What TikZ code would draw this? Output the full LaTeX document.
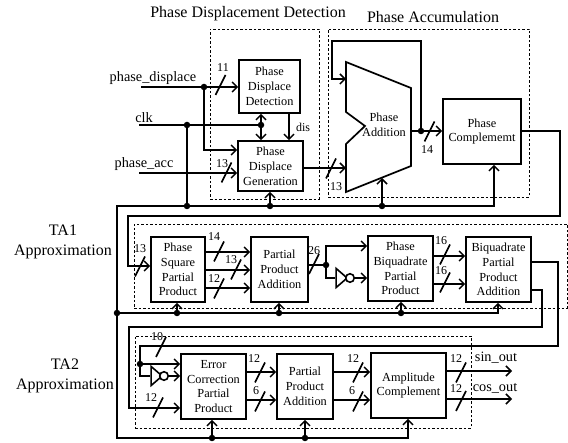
\documentclass[tikz,border=0pt]{standalone}
\usepackage{fontspec}
\setmainfont{Liberation Serif}
\usetikzlibrary{arrows.meta, positioning, shapes.geometric}

\tikzset{
  block/.style={draw, line width=1.7pt, fill=white, align=center, inner sep=0pt,
    font=\fontsize{12.3}{14.8}\selectfont},
  region/.style={draw, dashed, line width=0.6pt, dash pattern=on 2.5pt off 2pt},
  sig/.style={line width=1.7pt, -{Straight Barb[length=5pt,width=10pt,line width=1.5pt]}},
  wire/.style={line width=1.7pt},
  tick/.style={line width=1.6pt},
  dot/.style={circle, fill=black, inner sep=0pt, minimum size=6.5pt},
  width/.style={font=\fontsize{12}{14}\selectfont, inner sep=0pt},
  portlabel/.style={font=\fontsize{14.3}{16}\selectfont, inner sep=0pt},
  title/.style={font=\fontsize{16}{20}\selectfont, inner sep=0pt, align=center},
  inv/.style={draw, line width=1.6pt, fill=white, isosceles triangle, isosceles triangle stretches,
    minimum height=11pt, minimum width=19pt, inner sep=0pt},
  bubble/.style={draw, circle, line width=1.6pt, fill=white, minimum size=8.5pt, inner sep=0pt},
}

\begin{document}
\begin{tikzpicture}[x=1pt, y=-1pt]
  \useasboundingbox (0,0) rectangle (568,443);

  % Dashed regions
  \node[region, minimum width=109pt, minimum height=170pt] (pddbox) at (264.5,114) {};
  \node[region, minimum width=201pt, minimum height=168pt] (pabox) at (428.5,113) {};
  \node[region, minimum width=433pt, minimum height=84pt] (ta1box) at (350.5,266) {};
  \node[region, minimum width=336pt, minimum height=92pt] (ta2box) at (303,382) {};

  % Titles
  \node[title] (tpdd) at (248,14) {Phase Displacement Detection};
  \node[title] (tpa) at (433,17) {Phase Accumulation};
  \node[title] (tta1) at (63,242) {TA1\\Approximation};
  \node[title] (tta2) at (65,375.5) {TA2\\Approximation};

  % Phase blocks
  \node[block, minimum width=61pt, minimum height=53pt] (det) at (269.5,86.5) {Phase\\Displace\\Detection};
  \node[block, minimum width=65pt, minimum height=50pt] (gen) at (270.5,166) {Phase\\Displace\\Generation};
  \node[block, minimum width=78pt, minimum height=65pt] (comp) at (482,131.5) {Phase\\Complememt};
  \draw[line width=1.7pt, fill=white, line join=miter] (346,62) -- (411,88) -- (411,166) -- (346,192)
    -- (346,144) -- (365,126) -- (346,112) -- cycle;
  \node[block, draw=none, fill=none] (add) at (384,124.5) {Phase\\Addition};

  % TA1 blocks
  \node[block, minimum width=54pt, minimum height=65pt] (sqr) at (178,269.5) {Phase\\Square\\Partial\\Product};
  \node[block, minimum width=57pt, minimum height=65pt] (ppa) at (279.5,269.5) {Partial\\Product\\Addition};
  \node[block, minimum width=65pt, minimum height=65pt] (biq) at (400.5,268.5) {Phase\\Biquadrate\\Partial\\Product};
  \node[block, minimum width=65pt, minimum height=65pt] (bpa) at (498.5,269.5) {Biquadrate\\Partial\\Product\\Addition};

  % TA2 blocks
  \node[block, minimum width=65pt, minimum height=65pt] (err) at (213.5,386.5) {Error\\Correction\\Partial\\Product};
  \node[block, minimum width=56pt, minimum height=65pt] (ppb) at (305,386.5) {Partial\\Product\\Addition};
  \node[block, minimum width=75pt, minimum height=65pt] (amp) at (408.5,385.5) {Amplitude\\Complement};

  % Junctions
  \node[dot] (dpd) at (204,87) {};
  \node[dot] (dclk) at (187,125) {};
  \node[dot] (dmid) at (261,125) {};
  \node[dot] (dbus) at (187,206) {};
  \node[dot] (dgen) at (270,206) {};
  \node[dot] (dadd) at (382,206) {};
  \node[dot] (dfb) at (421,131) {};
  \node[dot] (dleft) at (117,313) {};
  \node[dot] (dsqr) at (177,313) {};
  \node[dot] (dppa) at (279,313) {};
  \node[dot] (dbiq) at (401,313) {};
  \node[dot] (dinv) at (326,265) {};
  \node[dot] (derr) at (140,364) {};
  \node[dot] (derb) at (212,438) {};
  \node[dot] (dppb) at (305,438) {};

  % Free ends and corners
  \coordinate (inpd) at (141,87);
  \coordinate (inclk) at (139,125);
  \coordinate (inacc) at (139,173);
  \coordinate (fbtop) at (332,41);
  \coordinate (addbot) at (382,178);
  \coordinate (outsin) at (512,371);
  \coordinate (outcos) at (512,399);

  % Inverters
  \node[inv] (invb) at (340.5,278) {};
  \node[bubble] (bubb) at (350,278) {};
  \node[inv] (inve) at (155.5,376) {};
  \node[bubble] (bube) at (164,376) {};

  % Phase section wiring
  \draw[sig] (inpd) -- (det.west |- inpd);
  \draw[wire] (inpd) -- (dpd);
  \draw[sig] (dpd) |- (gen.west |- 0,150);
  \draw[wire] (inclk) -- (dmid);
  \draw[wire] (dclk) -- (dbus);
  \draw[sig] (dmid) -- (det.south -| dmid);
  \draw[sig] (dmid) -- (gen.north -| dmid);
  \draw[sig] (det.south -| 289,0) -- (gen.north -| 289,0);
  \draw[sig] (inacc) -- (gen.west |- inacc);
  \draw[sig] (dgen) -- (gen.south -| dgen);
  \draw[sig] (gen.east |- 0,168) -- (346,168);
  \draw[wire] (411,131) -- (dfb);
  \draw[sig] (dfb) -- (comp.west |- dfb);
  \draw[sig] (dfb) |- (fbtop) |- (346,79);
  \draw[sig] (dadd) -- (addbot);

  % Clock bus
  \draw[sig] (dleft) |- (dbus) -| (comp.south -| 494,0);
  \draw[sig] (dleft) -- (117,438) -| (amp.south -| 408,0);
  \draw[sig] (dleft) -| (bpa.south -| 498,0);
  \draw[sig] (dsqr) -- (sqr.south -| dsqr);
  \draw[sig] (dppa) -- (ppa.south -| dppa);
  \draw[sig] (dbiq) -- (biq.south -| dbiq);
  \draw[sig] (derb) -- (err.south -| derb);
  \draw[sig] (dppb) -- (ppb.south -| dppb);

  % TA1 wiring
  \draw[sig] (comp.east |- 0,131) -- (560,131) |- (128,216) |- (sqr.west |- 0,266);
  \foreach \yy in {252,270,288}
    \draw[sig] (sqr.east |- 0,\yy) -- (ppa.west |- 0,\yy);
  \draw[wire] (ppa.east |- dinv) -- (dinv);
  \draw[sig] (dinv) |- (biq.west |- 0,246);
  \draw[wire] (dinv) |- (invb.west);
  \draw[sig] (bubb) -- (biq.west |- bubb);
  \foreach \yy in {256,284}
    \draw[sig] (biq.east |- 0,\yy) -- (bpa.west |- 0,\yy);

  % TA2 wiring
  \draw[wire] (bpa.east |- 0,262) -- (558,262) |- (140,346) -- (derr);
  \draw[sig] (derr) -- (err.west |- derr);
  \draw[wire] (derr) |- (inve.west);
  \draw[sig] (bube) -- (err.west |- bube);
  \draw[sig] (bpa.east |- 0,290) -- (542,290) |- (129,327) |- (err.west |- 0,408);
  \foreach \yy in {372,400}
    \draw[sig] (err.east |- 0,\yy) -- (ppb.west |- 0,\yy);
  \foreach \yy in {372,400}
    \draw[sig] (ppb.east |- 0,\yy) -- (amp.west |- 0,\yy);
  \draw[sig] (amp.east |- outsin) -- (outsin);
  \draw[sig] (amp.east |- outcos) -- (outcos);

  % Bus width marks
  \foreach \xx/\yy/\lx/\ly/\lab [count=\i] in {
      220.5/85/223/68/11, 226.5/172.5/222/164/13, 331/168.5/336/187/13, 429.5/131.5/427/150/14,
      140/266.5/140/249/13, 219/251.5/214/237/14, 236/269.5/231/260/13, 219/288.5/214/279/12,
      314/264/314/251/26, 445/254.5/441/241/16, 445/282.5/441/271/16,
      161/347/157/337/10, 158/407.5/151/398/12, 260/372.5/254/359/12, 260/401.5/256/391/6,
      358/372.5/353/359/12, 358/401.5/352/391/6, 461/372.5/456/359/12, 461/401/456/389/12}{
    \draw[tick] (\xx-5,\yy+10) -- (\xx+5,\yy-10);
    \node[width] (w\i) at (\lx,\ly) {\lab};
  }

  % Labels
  \node[width] (ldis) at (303,127) {dis};
  \node[portlabel] (lpd) at (153,78) {phase\_displace};
  \node[portlabel] (lclk) at (144,118) {clk};
  \node[portlabel] (lacc) at (144,164) {phase\_acc};
  \node[portlabel] (lsin) at (496,358) {sin\_out};
  \node[portlabel] (lcos) at (495,388) {cos\_out};
\end{tikzpicture}
\end{document}
